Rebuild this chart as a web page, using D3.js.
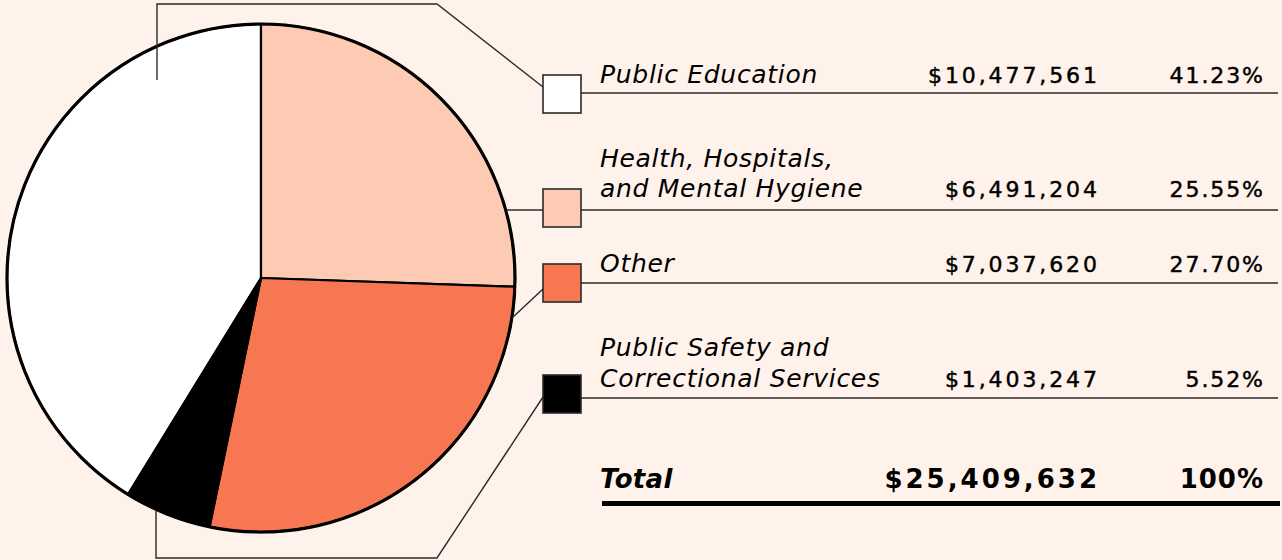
<!DOCTYPE html>
<html><head><meta charset="utf-8">
<script src="https://cdn.jsdelivr.net/npm/d3@7"></script>
<style>
html,body{margin:0;padding:0;background:#FEF2EA;}
svg{display:block;}
text{font-family:"DejaVu Sans",Verdana,sans-serif;fill:#000;}
</style></head>
<body>
<svg id="chart" width="1282" height="560"></svg>
<script>
const categories = [["Public Education"], ["Health, Hospitals,", "and Mental Hygiene"], ["Other"], ["Public Safety and", "Correctional Services"]];
const amounts = [10477561, 6491204, 7037620, 1403247];
const colors = ["#FFFFFF", "#FDCAB4", "#F77753", "#000000"];
const totalLabel = "Total";

const svg = d3.select("#chart");
const W = 1282, H = 560;
svg.append("rect").attr("width", W).attr("height", H).attr("fill", "#FEF2EA");

const total = d3.sum(amounts);
const cx = 261, cy = 278, R = 254;
const startA = -2 * Math.PI * amounts[0] / total;
const pie = d3.pie().sort(null).value(d => d).startAngle(startA).endAngle(startA + 2 * Math.PI);
const arcs = pie(amounts);
const arc = d3.arc().innerRadius(0).outerRadius(R);

const lineColor = "#2a2a2a";
const g = svg.append("g");

const pg = g.append("g").attr("transform", `translate(${cx},${cy})`);
pg.selectAll("path").data(arcs).join("path")
  .attr("d", arc)
  .attr("fill", (d, i) => colors[i])
  .attr("stroke", "#000").attr("stroke-width", 2.2).attr("stroke-linejoin", "round");
pg.append("circle").attr("r", R).attr("fill", "none").attr("stroke", "#000").attr("stroke-width", 3.2);

// legend rows
const boxX = 543, boxS = 38;
const boxY = [75, 189, 264, 375];
const rowLineY = [93, 210, 283, 398];
const textX = 600, valX = 1097, pctX = 1263, lineEnd = 1278;
const labelBase = [[83], [167, 197], [272], [356, 387]];
const fmtMoney = d => "$" + d3.format(",")(d);
const fmtPct = d => d3.format(".2f")(d * 100) + "%";

// leader geometry
const leaders = g.append("g").attr("fill", "none").attr("stroke", lineColor).attr("stroke-width", 1.4);
leaders.append("path").attr("d", `M157,80 V4 H437 L${boxX},87`);
leaders.append("path").attr("d", `M${cx + R - 8},210 H${boxX}`);
leaders.append("path").attr("d", `M512,318 L${boxX},289`);
leaders.append("path").attr("d", `M156,510 V558 H437 L${boxX},397`);

const lsV = 2.9, lsP = 1.9;
categories.forEach((lab, i) => {
  g.append("rect").attr("x", boxX).attr("y", boxY[i]).attr("width", boxS).attr("height", boxS)
    .attr("fill", colors[i]).attr("stroke", lineColor).attr("stroke-width", 1.6);
  g.append("line").attr("x1", boxX + boxS).attr("x2", lineEnd).attr("y1", rowLineY[i]).attr("y2", rowLineY[i])
    .attr("stroke", lineColor).attr("stroke-width", 1.4);
  lab.forEach((t, j) => {
    g.append("text").attr("x", textX).attr("y", labelBase[i][j])
      .attr("font-size", 25).attr("font-style", "italic").attr("letter-spacing", 0.7).text(t);
  });
  const by = labelBase[i][lab.length - 1];
  g.append("text").attr("x", valX + lsV).attr("y", by).attr("text-anchor", "end")
    .attr("font-size", 22).attr("letter-spacing", lsV)
    .attr("stroke", "#000").attr("stroke-width", 0.45).text(fmtMoney(amounts[i]));
  g.append("text").attr("x", pctX + lsP).attr("y", by).attr("text-anchor", "end")
    .attr("font-size", 22).attr("letter-spacing", lsP)
    .attr("stroke", "#000").attr("stroke-width", 0.45).text(fmtPct(amounts[i] / total));
});

// total row
g.append("text").attr("x", textX).attr("y", 488).attr("font-size", 26).attr("font-weight", "bold")
  .attr("font-style", "italic").attr("letter-spacing", 0.3).text(totalLabel);
g.append("text").attr("x", valX + 3).attr("y", 488).attr("text-anchor", "end").attr("font-size", 26)
  .attr("font-weight", "bold").attr("letter-spacing", 3).text(fmtMoney(total));
g.append("text").attr("x", pctX + 1).attr("y", 488).attr("text-anchor", "end").attr("font-size", 26)
  .attr("font-weight", "bold").attr("letter-spacing", 1).text("100%");
g.append("line").attr("x1", 602).attr("x2", 1280).attr("y1", 503.5).attr("y2", 503.5)
  .attr("stroke", "#000").attr("stroke-width", 5);
</script>
</body></html>
